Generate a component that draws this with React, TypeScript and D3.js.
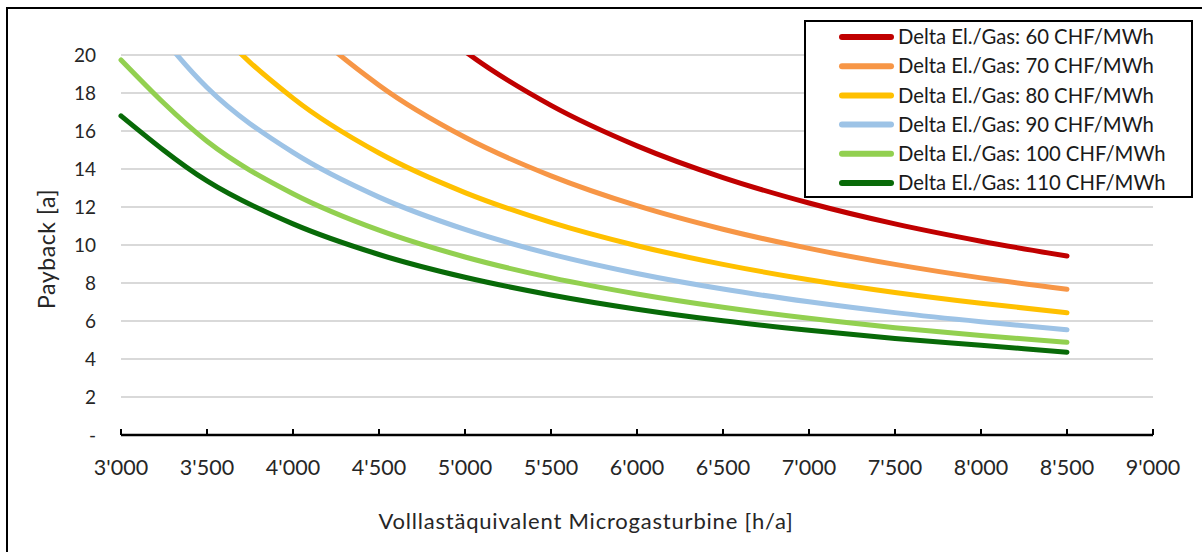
import React from "react";
import * as d3 from "d3";

// Full-load hours of the micro gas turbine [h/a]
const hours = [3000, 3500, 4000, 4500, 5000, 5500, 6000, 6500, 7000, 7500, 8000, 8500];

// Payback [a] per electricity/gas price delta (null = outside computed range)
const delta60: (number | null)[] = [null, null, null, 24.13, 20.19, 17.35, 15.22, 13.55, 12.21, 11.11, 10.2, 9.42];
const delta70: (number | null)[] = [null, 28.3, 22.32, 18.41, 15.67, 13.64, 12.07, 10.83, 9.82, 8.98, 8.27, 7.67];
const delta80: (number | null)[] = [29.05, 22.02, 17.73, 14.84, 12.76, 11.19, 9.96, 8.98, 8.17, 7.5, 6.93, 6.44];
const delta90: (number | null)[] = [23.75, 18.29, 14.87, 12.52, 10.82, 9.52, 8.5, 7.68, 7.01, 6.44, 5.96, 5.54];
const delta100: (number | null)[] = [19.74, 15.46, 12.7, 10.78, 9.37, 8.28, 7.42, 6.72, 6.14, 5.65, 5.24, 4.88];
const delta110: (number | null)[] = [16.8, 13.37, 11.11, 9.5, 8.3, 7.37, 6.62, 6.01, 5.51, 5.08, 4.72, 4.36];

const seriesNames = [
  "Delta El./Gas: 60 CHF/MWh",
  "Delta El./Gas: 70 CHF/MWh",
  "Delta El./Gas: 80 CHF/MWh",
  "Delta El./Gas: 90 CHF/MWh",
  "Delta El./Gas: 100 CHF/MWh",
  "Delta El./Gas: 110 CHF/MWh",
];
const seriesValues = [delta60, delta70, delta80, delta90, delta100, delta110];
const seriesColors = ["#C00000", "#F79646", "#FFC000", "#9DC3E6", "#92D050", "#086A08"];

const xTicks = [3000, 3500, 4000, 4500, 5000, 5500, 6000, 6500, 7000, 7500, 8000, 8500, 9000];
const yTicks = [0, 2, 4, 6, 8, 10, 12, 14, 16, 18, 20];

const xTitle = "Volllastäquivalent Microgasturbine [h/a]";
const yTitle = "Payback [a]";

const W = 1202;
const H = 552;
const FONT = "Lato, 'Noto Sans', sans-serif";

const swiss = d3.formatLocale({
  decimal: ".",
  thousands: "'",
  grouping: [3],
  currency: ["", ""],
});
const fmtX = swiss.format(",");

export default function App() {
  const x = d3.scaleLinear().domain([3000, 9000]).range([121, 1153]);
  const y = d3.scaleLinear().domain([0, 20]).range([435, 55]);

  const line = d3
    .line<[number, number | null]>()
    .defined((d) => d[1] !== null)
    .x((d) => x(d[0]))
    .y((d) => y(d[1] as number))
    .curve(d3.curveMonotoneX);

  const [x0, x1] = x.range();
  const [yBottom, yTop] = y.range();

  return (
    <svg
      width={W}
      height={H}
      style={{ position: "absolute", left: 0, top: 0, background: "#fff" }}
      fontFamily={FONT}
    >
      <defs>
        <clipPath id="plot-clip">
          <rect x={x0 - 10} y={yTop} width={x1 - x0 + 20} height={yBottom - yTop} />
        </clipPath>
      </defs>
      <rect x={0} y={0} width={W} height={H} fill="#fff" />
      {/* outer frame */}
      <rect x={7} y={8} width={W + 20} height={H + 20} fill="none" stroke="#000" strokeWidth={2} />

      {/* horizontal gridlines */}
      {yTicks
        .filter((t) => t > 0)
        .map((t) => (
          <line key={t} x1={x0} x2={x1} y1={y(t)} y2={y(t)} stroke="#D9D9D9" strokeWidth={2} />
        ))}

      {/* y tick labels */}
      {yTicks.map((t) => (
        <text
          key={t}
          x={96}
          y={y(t)}
          dy="0.35em"
          textAnchor="end"
          fontSize={19}
          fill="#262626"
        >
          {t === 0 ? "-" : t}
        </text>
      ))}

      {/* x axis */}
      <line x1={x0} x2={x1} y1={yBottom} y2={yBottom} stroke="#000" strokeWidth={2.5} />
      {xTicks.map((t) => (
        <g key={t}>
          <line x1={x(t)} x2={x(t)} y1={yBottom} y2={yBottom - 6} stroke="#000" strokeWidth={2} />
          <text x={x(t)} y={yBottom + 32} dy="0.35em" textAnchor="middle" fontSize={21.5} fill="#262626">
            {fmtX(t)}
          </text>
        </g>
      ))}

      {/* curves */}
      <g clipPath="url(#plot-clip)">
        {seriesValues.map((vals, i) => (
          <path
            key={seriesNames[i]}
            d={line(hours.map((h, j) => [h, vals[j]] as [number, number | null])) || ""}
            fill="none"
            stroke={seriesColors[i]}
            strokeWidth={5}
            strokeLinecap="round"
            strokeLinejoin="round"
          />
        ))}
      </g>

      {/* axis titles */}
      <text
        x={586}
        y={521}
        dy="0.35em"
        textAnchor="middle"
        fontSize={22}
        letterSpacing={0.8}
        fill="#262626"
      >
        {xTitle}
      </text>
      <text
        transform={`translate(47,249) rotate(-90)`}
        dy="0.35em"
        textAnchor="middle"
        fontSize={23}
        letterSpacing={0.6}
        fill="#262626"
      >
        {yTitle}
      </text>

      {/* legend */}
      <rect x={805} y={21} width={387} height={176} fill="#fff" stroke="#000" strokeWidth={2} />
      {seriesNames.map((name, i) => {
        const ry = 37 + i * 29.2;
        return (
          <g key={name}>
            <line
              x1={842}
              x2={891}
              y1={ry}
              y2={ry}
              stroke={seriesColors[i]}
              strokeWidth={6}
              strokeLinecap="round"
            />
            <text x={898} y={ry} dy="0.35em" fontSize={20.3} fill="#1a1a1a">
              {name}
            </text>
          </g>
        );
      })}
    </svg>
  );
}
